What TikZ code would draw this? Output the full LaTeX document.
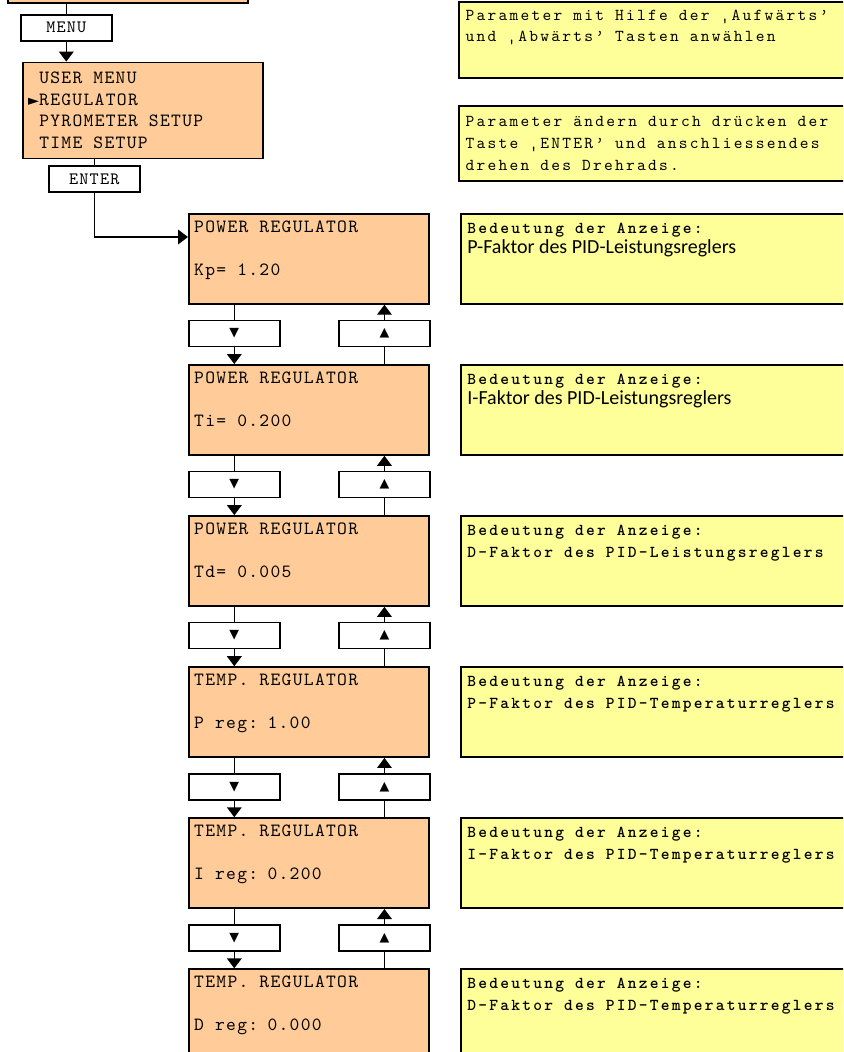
\documentclass[tikz,border=0pt]{standalone}
\usepackage{fontspec}
\newfontfamily\lcdfont[Extension=.otf, UprightFont=*-regular, BoldFont=lmmonolt10-bold, LetterSpace=7]{lmmono10}
\newfontfamily\hintfont[Extension=.otf, UprightFont=*-regular, BoldFont=lmmonolt10-bold, LetterSpace=13.5]{lmmono10}
\newfontfamily\notefont{Carlito}
\newfontfamily\symfont{DejaVu Sans}
\usepackage{tikz}
\usetikzlibrary{arrows.meta, positioning}
\definecolor{lcdorange}{HTML}{FFCC99}
\definecolor{noteyellow}{HTML}{FFFF99}

\begin{document}
\begin{tikzpicture}[
    x=0.75pt, y=-0.75pt,
    lcd/.style={draw=black, fill=lcdorange, line width=1.3pt, rectangle, minimum width=180pt, minimum height=67.5pt, text width=172pt, inner xsep=3pt, align=left, font=\lcdfont\fontsize{14}{16.1}\selectfont, execute at begin node={\spaceskip=8.3pt\relax}},
    key/.style={draw=black, fill=white, line width=1.2pt, rectangle, minimum width=68.25pt, minimum height=19.5pt, inner sep=0pt, font=\lcdfont\fontsize{13}{15}\selectfont},
    note/.style={draw=black, fill=noteyellow, line width=1.5pt, rectangle, minimum width=315pt, minimum height=67.5pt, text width=305pt, inner xsep=4.5pt, align=left, font=\hintfont\fontsize{12.5}{16.3}\selectfont, execute at begin node={\spaceskip=8.25pt\relax}},
    wire/.style={line width=1.1pt},
    arrow/.style={line width=1.1pt, -{Triangle[length=7.5pt, width=11pt]}}
]
\useasboundingbox (0,0) rectangle (843,1052);
\clip (0,0) rectangle (843,1052);

% menu part
\node (mainscreen) [lcd, anchor=south west, minimum height=45pt] at (7,4) {};
\node (menukey) [key, below right=7.5pt and 9.75pt of mainscreen.south west] {MENU};
\node (usermenu) [lcd, minimum height=72pt, below right=15pt and 1.5pt of menukey.south west] {~USER MENU\\{\symfont\fontsize{10.7}{10}\selectfont ►}REGULATOR\\~PYROMETER SETUP\\~TIME SETUP};
\node (enterkey) [key, below right=4.5pt and 19.5pt of usermenu.south west] {ENTER};

% hints
\node (hint1) [note, anchor=north west, minimum height=57pt] at (458,1) {Parameter mit Hilfe der ‚Aufwärts’\\und ‚Abwärts’ Tasten anwählen\\\strut};
\node (hint2) [note, anchor=north west, minimum height=56.25pt] at (458,105) {Parameter ändern durch drücken der\\Taste ‚ENTER’ und anschliessendes\\drehen des Drehrads.};

% regulator screens
\node (scr1) [lcd, anchor=north west] at (188,213) {POWER REGULATOR\\[\baselineskip]Kp= 1.20\\[-4.5pt]\strut};
\node (scr2) [lcd, below=44.5pt of scr1] {POWER REGULATOR\\[\baselineskip]Ti= 0.200\\[-4.5pt]\strut};
\node (scr3) [lcd, below=44.5pt of scr2] {POWER REGULATOR\\[\baselineskip]Td= 0.005\\[-4.5pt]\strut};
\node (scr4) [lcd, below=44.5pt of scr3] {TEMP. REGULATOR\\[\baselineskip]P reg: 1.00\\[-4.5pt]\strut};
\node (scr5) [lcd, below=44.5pt of scr4] {TEMP. REGULATOR\\[\baselineskip]I reg: 0.200\\[-4.5pt]\strut};
\node (scr6) [lcd, below=44.5pt of scr5] {TEMP. REGULATOR\\[\baselineskip]D reg: 0.000\\[-4.5pt]\strut};

% up/down keys
\node (dn1) [key, below right=11.25pt and 0pt of scr1.south west] {\symfont\fontsize{9.5}{10}\selectfont ▼};
\node (up1) [key, below left=11.25pt and -0.75pt of scr1.south east] {\symfont\fontsize{9.5}{10}\selectfont ▲};
\node (dn2) [key, below right=11.25pt and 0pt of scr2.south west] {\symfont\fontsize{9.5}{10}\selectfont ▼};
\node (up2) [key, below left=11.25pt and -0.75pt of scr2.south east] {\symfont\fontsize{9.5}{10}\selectfont ▲};
\node (dn3) [key, below right=11.25pt and 0pt of scr3.south west] {\symfont\fontsize{9.5}{10}\selectfont ▼};
\node (up3) [key, below left=11.25pt and -0.75pt of scr3.south east] {\symfont\fontsize{9.5}{10}\selectfont ▲};
\node (dn4) [key, below right=11.25pt and 0pt of scr4.south west] {\symfont\fontsize{9.5}{10}\selectfont ▼};
\node (up4) [key, below left=11.25pt and -0.75pt of scr4.south east] {\symfont\fontsize{9.5}{10}\selectfont ▲};
\node (dn5) [key, below right=11.25pt and 0pt of scr5.south west] {\symfont\fontsize{9.5}{10}\selectfont ▼};
\node (up5) [key, below left=11.25pt and -0.75pt of scr5.south east] {\symfont\fontsize{9.5}{10}\selectfont ▲};

% meaning of the display
\node (info1) [note, right=22.5pt of scr1] {\textbf{Bedeutung der Anzeige:}\\[-1pt]{\notefont\fontsize{15}{16.3}\selectfont\spaceskip=0pt P-Faktor des PID-Leistungsreglers}\\\strut\\[-6.5pt]\strut};
\node (info2) [note, right=22.5pt of scr2] {\textbf{Bedeutung der Anzeige:}\\[-1pt]{\notefont\fontsize{15}{16.3}\selectfont\spaceskip=0pt I-Faktor des PID-Leistungsreglers}\\\strut\\[-6.5pt]\strut};
\node (info3) [note, right=22.5pt of scr3] {\textbf{Bedeutung der Anzeige:}\\\textbf{D-Faktor des PID-Leistungsreglers}\\\strut\\[-7.5pt]\strut};
\node (info4) [note, right=22.5pt of scr4] {\textbf{Bedeutung der Anzeige:}\\\textbf{P-Faktor des PID-Temperaturreglers}\\\strut\\[-7.5pt]\strut};
\node (info5) [note, right=22.5pt of scr5] {\textbf{Bedeutung der Anzeige:}\\\textbf{I-Faktor des PID-Temperaturreglers}\\\strut\\[-7.5pt]\strut};
\node (info6) [note, right=22.5pt of scr6] {\textbf{Bedeutung der Anzeige:}\\\textbf{D-Faktor des PID-Temperaturreglers}\\\strut\\[-7.5pt]\strut};

% connectors
\draw [wire] (mainscreen.south -| menukey.north) -- (menukey.north);
\draw [arrow] (menukey.south) -- (menukey.south |- usermenu.north);
\draw [wire] (usermenu.south -| enterkey.north) -- (enterkey.north);
\coordinate (scr1in) at ([yshift=-18pt]scr1.north west);
\draw [arrow] (enterkey.south) |- (scr1in);

\draw [wire] (scr1.south -| dn1.north) -- (dn1.north);
\draw [arrow] (dn1.south) -- (dn1.south |- scr2.north);
\draw [wire] (scr2.north -| up1.south) -- (up1.south);
\draw [arrow] (up1.north) -- (up1.north |- scr1.south);

\draw [wire] (scr2.south -| dn2.north) -- (dn2.north);
\draw [arrow] (dn2.south) -- (dn2.south |- scr3.north);
\draw [wire] (scr3.north -| up2.south) -- (up2.south);
\draw [arrow] (up2.north) -- (up2.north |- scr2.south);

\draw [wire] (scr3.south -| dn3.north) -- (dn3.north);
\draw [arrow] (dn3.south) -- (dn3.south |- scr4.north);
\draw [wire] (scr4.north -| up3.south) -- (up3.south);
\draw [arrow] (up3.north) -- (up3.north |- scr3.south);

\draw [wire] (scr4.south -| dn4.north) -- (dn4.north);
\draw [arrow] (dn4.south) -- (dn4.south |- scr5.north);
\draw [wire] (scr5.north -| up4.south) -- (up4.south);
\draw [arrow] (up4.north) -- (up4.north |- scr4.south);

\draw [wire] (scr5.south -| dn5.north) -- (dn5.north);
\draw [arrow] (dn5.south) -- (dn5.south |- scr6.north);
\draw [wire] (scr6.north -| up5.south) -- (up5.south);
\draw [arrow] (up5.north) -- (up5.north |- scr5.south);

\end{tikzpicture}
\end{document}
